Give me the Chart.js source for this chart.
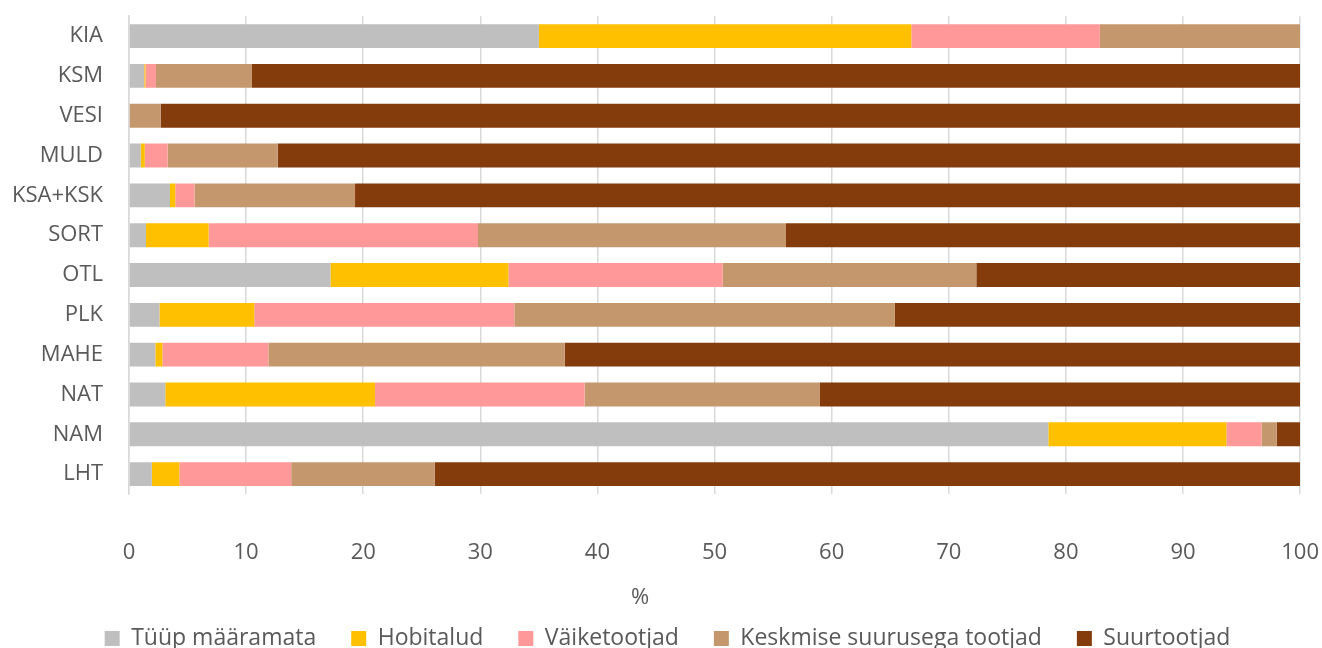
<!DOCTYPE html>
<html>
<head>
<meta charset="utf-8">
<script src="https://cdn.jsdelivr.net/npm/chart.js@4"></script>
<style>
  html, body { margin: 0; padding: 0; background: #fff; }
  #wrap { width: 1322px; height: 648px; }
</style>
</head>
<body>
<div id="wrap"><canvas id="chart" width="1322" height="648"></canvas></div>
<script>
// kategooriad ülalt alla
const categories = ['KIA', 'KSM', 'VESI', 'MULD', 'KSA+KSK', 'SORT', 'OTL', 'PLK', 'MAHE', 'NAT', 'NAM', 'LHT'];
const seriesNames = ['Tüüp määramata', 'Hobitalud', 'Väiketootjad', 'Keskmise suurusega tootjad', 'Suurtootjad'];
const tyypMaaramata = [35.0, 1.3, 0, 1.0, 3.5, 1.45, 17.2, 2.6, 2.25, 3.1, 78.5, 1.95];
const hobitalud     = [31.8, 0.1, 0, 0.35, 0.45, 5.35, 15.2, 8.1, 0.6, 17.9, 15.2, 2.35];
const vaiketootjad  = [16.1, 0.9, 0, 1.95, 1.65, 23.0, 18.3, 22.2, 9.05, 17.9, 3.0, 9.55];
const keskmised     = [17.1, 8.2, 2.7, 9.4, 13.7, 26.3, 21.65, 32.5, 25.3, 20.1, 1.3, 12.25];
const suurtootjad   = [0, 89.5, 97.3, 87.3, 80.7, 43.9, 27.65, 34.6, 62.8, 41.0, 2.0, 73.9];
const xTicks = [0, 10, 20, 30, 40, 50, 60, 70, 80, 90, 100];
const axisTitle = '%';

const colors = ['#BFBFBF', '#FFC000', '#FF9999', '#C4976C', '#843C0C'];
const values = [tyypMaaramata, hobitalud, vaiketootjad, keskmised, suurtootjad];

const txt = '#595959';
const fam = '"Open Sans", sans-serif';

// "%" ei ole Excelis joonise keskel, seega joonistame ise
const percentLabel = {
  id: 'percentLabel',
  afterDraw(chart) {
    const ctx = chart.ctx;
    ctx.save();
    ctx.font = '22px ' + fam;
    ctx.fillStyle = txt;
    ctx.textAlign = 'center';
    ctx.textBaseline = 'middle';
    ctx.fillText(axisTitle, 640, 598);
    ctx.restore();
  }
};

new Chart(document.getElementById('chart').getContext('2d'), {
  type: 'bar',
  data: {
    labels: categories,
    datasets: seriesNames.map((name, i) => ({
      label: name,
      data: values[i],
      backgroundColor: colors[i],
      borderWidth: 0,
      barPercentage: 0.6,
      categoryPercentage: 1
    }))
  },
  options: {
    indexAxis: 'y',
    responsive: false,
    animation: false,
    layout: { padding: { top: 16, left: 0, right: -13, bottom: -12 } },
    scales: {
      x: {
        stacked: true,
        min: 0,
        max: 100,
        afterBuildTicks: axis => { axis.ticks = xTicks.map(v => ({ value: v })); },
        afterFit: axis => { axis.height = 98; },
        grid: { color: '#D9D9D9', lineWidth: 1.5, drawTicks: true, tickLength: 43, tickColor: 'rgba(0,0,0,0)' },
        border: { display: false },
        ticks: { color: txt, font: { family: fam, size: 22 }, padding: 3 },
        title: { display: false }
      },
      y: {
        stacked: true,
        afterFit: axis => { axis.width = 129; },
        grid: { display: true, drawOnChartArea: false, tickLength: 23, tickColor: 'rgba(0,0,0,0)' },
        border: { color: '#D9D9D9', width: 1.5 },
        ticks: { color: txt, font: { family: fam, size: 22 }, padding: 3 }
      }
    },
    plugins: {
      legend: {
        position: 'bottom',
        labels: { color: txt, font: { family: fam, size: 23 }, boxWidth: 15, boxHeight: 15, padding: 35 }
      },
      tooltip: { enabled: false }
    }
  },
  plugins: [percentLabel]
});
</script>
</body>
</html>
